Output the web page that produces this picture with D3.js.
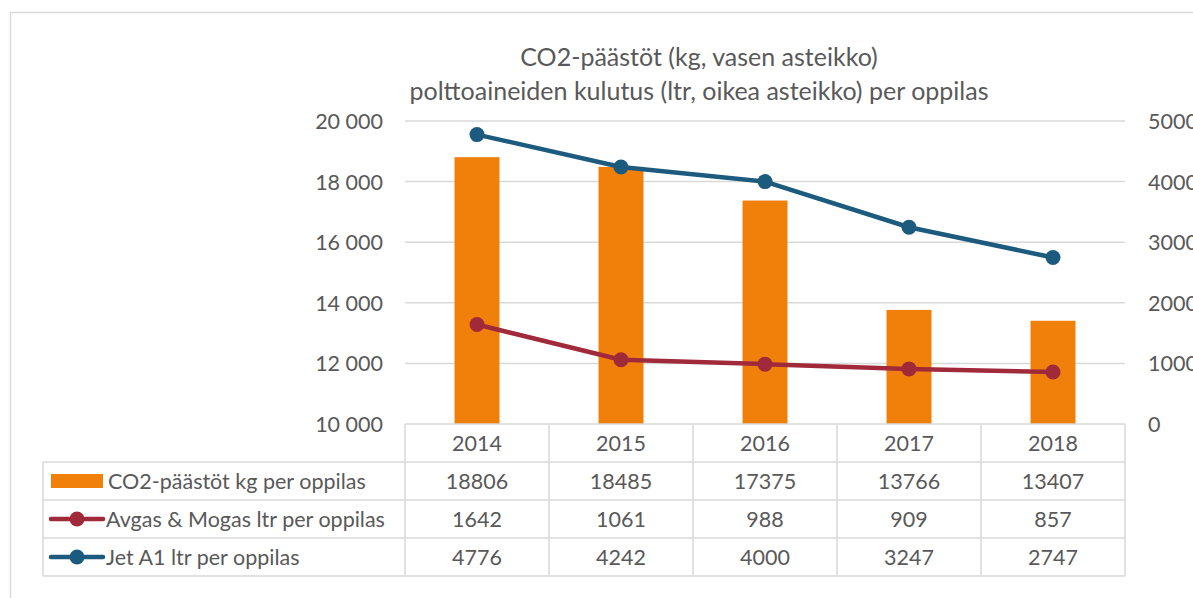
<!DOCTYPE html>
<html><head><meta charset="utf-8">
<script src="https://cdn.jsdelivr.net/npm/d3@7"></script>
<style>
body{margin:0;background:#fff;}
svg{display:block;font-family:Lato, "Noto Sans", sans-serif;}
text{fill:#595959;}
</style></head>
<body><svg id="c" width="1193" height="598"></svg>
<script>
const years = ["2014","2015","2016","2017","2018"];
const co2 = [18806,18485,17375,13766,13407];
const avgas = [1642,1061,988,909,857];
const jet = [4776,4242,4000,3247,2747];
const seriesNames = ["CO2-päästöt kg per oppilas","Avgas & Mogas ltr per oppilas","Jet A1 ltr per oppilas"];
const leftTicks = [10000,12000,14000,16000,18000,20000];
const rightTicks = [0,1000,2000,3000,4000,5000];
const titleLines = ["CO2-päästöt (kg, vasen asteikko)","polttoaineiden kulutus (ltr, oikea asteikko) per oppilas"];

const C_ORANGE="#F0800A", C_RED="#A0293A", C_BLUE="#1C5A7E", GRID="#d9d9d9";
const FS = "21.5px";
const svg = d3.select("#c");
const L=405, R=1125, T=121, B=424;
const x = d3.scaleBand().domain(years).range([L,R]).padding(0);
const yL = d3.scaleLinear().domain([10000,20000]).range([B,T]);
const yR = d3.scaleLinear().domain([0,5000]).range([B,T]);
const fmt = d3.formatLocale({decimal:",",thousands:" ",grouping:[3],currency:["",""]}).format(",");

// chart border
svg.append("path").attr("d","M10.5,598 V12.5 H1193").attr("fill","none").attr("stroke",GRID).attr("stroke-width",1.5);

// title
svg.append("g").selectAll("text").data(titleLines).join("text")
  .attr("x",699).attr("y",(d,i)=>66+i*34).attr("text-anchor","middle")
  .style("font-size","25px").text(d=>d);

// gridlines
svg.append("g").selectAll("line").data(leftTicks.slice(1)).join("line")
  .attr("x1",L).attr("x2",R).attr("y1",d=>yL(d)).attr("y2",d=>yL(d))
  .attr("stroke",GRID).attr("stroke-width",1.5);

// left axis
const ga = svg.append("g").attr("transform",`translate(${L},0)`)
  .call(d3.axisLeft(yL).tickValues(leftTicks).tickFormat(fmt).tickSize(0).tickPadding(22));
ga.select(".domain").remove();
ga.selectAll("text").style("font-size",FS).style("font-family","Lato").attr("fill","#595959").attr("dy","0.35em");

// right axis
const gr = svg.append("g").attr("transform",`translate(${R},0)`)
  .call(d3.axisRight(yR).tickValues(rightTicks).tickFormat(d3.format("d")).tickSize(0).tickPadding(23));
gr.select(".domain").remove();
gr.selectAll("text").style("font-size",FS).style("font-family","Lato").attr("fill","#595959").attr("dy","0.35em");

// bars
const bw = 45;
svg.append("g").selectAll("rect").data(years).join("rect")
  .attr("x",d=>x(d)+x.bandwidth()/2-bw/2).attr("width",bw)
  .attr("y",(d,i)=>yL(co2[i])).attr("height",(d,i)=>B-yL(co2[i]))
  .attr("fill",C_ORANGE);

// lines
function drawLine(vals,color){
  const line = d3.line().x((d,i)=>x(years[i])+x.bandwidth()/2).y(d=>yR(d));
  svg.append("path").datum(vals).attr("d",line).attr("fill","none").attr("stroke",color).attr("stroke-width",4.5).attr("stroke-linejoin","round");
  svg.append("g").selectAll("circle").data(vals).join("circle")
    .attr("cx",(d,i)=>x(years[i])+x.bandwidth()/2).attr("cy",d=>yR(d)).attr("r",7.5).attr("fill",color);
}
drawLine(avgas,C_RED);
drawLine(jet,C_BLUE);

// data table
const rowH = 38;
const tbl = svg.append("g");
const TL = 43;
const rowsY = [B, B+rowH, B+2*rowH, B+3*rowH, B+4*rowH];
tbl.append("line").attr("x1",L).attr("x2",R).attr("y1",B).attr("y2",B).attr("stroke",GRID).attr("stroke-width",1.5);
[1,2,3,4].forEach(k=>{
  tbl.append("line").attr("x1",TL).attr("x2",R).attr("y1",rowsY[k]).attr("y2",rowsY[k]).attr("stroke",GRID).attr("stroke-width",1.5);
});
tbl.append("line").attr("x1",TL).attr("x2",TL).attr("y1",rowsY[1]).attr("y2",rowsY[4]).attr("stroke",GRID).attr("stroke-width",1.5);
years.forEach(y=>{
  tbl.append("line").attr("x1",x(y)).attr("x2",x(y)).attr("y1",B).attr("y2",rowsY[4]).attr("stroke",GRID).attr("stroke-width",1.5);
});
tbl.append("line").attr("x1",R).attr("x2",R).attr("y1",B).attr("y2",rowsY[4]).attr("stroke",GRID).attr("stroke-width",1.5);

const tableData = [years, co2, avgas, jet];
tableData.forEach((row,r)=>{
  tbl.append("g").selectAll("text").data(row).join("text")
    .attr("x",(d,i)=>x(years[i])+x.bandwidth()/2).attr("y",B+r*rowH+rowH/2).attr("dy","0.35em")
    .attr("text-anchor","middle").style("font-size",FS).text(d=>d);
});
// legend column
const legY = [1,2,3].map(k=>B+k*rowH+rowH/2);
tbl.append("rect").attr("x",51).attr("y",legY[0]-7).attr("width",52).attr("height",14).attr("fill",C_ORANGE);
[[C_RED,1],[C_BLUE,2]].forEach(([c,k])=>{
  tbl.append("line").attr("x1",51).attr("x2",103).attr("y1",legY[k]).attr("y2",legY[k]).attr("stroke",c).attr("stroke-width",4.5).attr("stroke-linecap","round");
  tbl.append("circle").attr("cx",77).attr("cy",legY[k]).attr("r",7.5).attr("fill",c);
});
tbl.append("g").selectAll("text").data(seriesNames).join("text")
  .attr("x",(d,i)=>i===0?108:106).attr("y",(d,i)=>legY[i]).attr("dy","0.35em")
  .style("font-size",FS).text(d=>d);
</script></body></html>
